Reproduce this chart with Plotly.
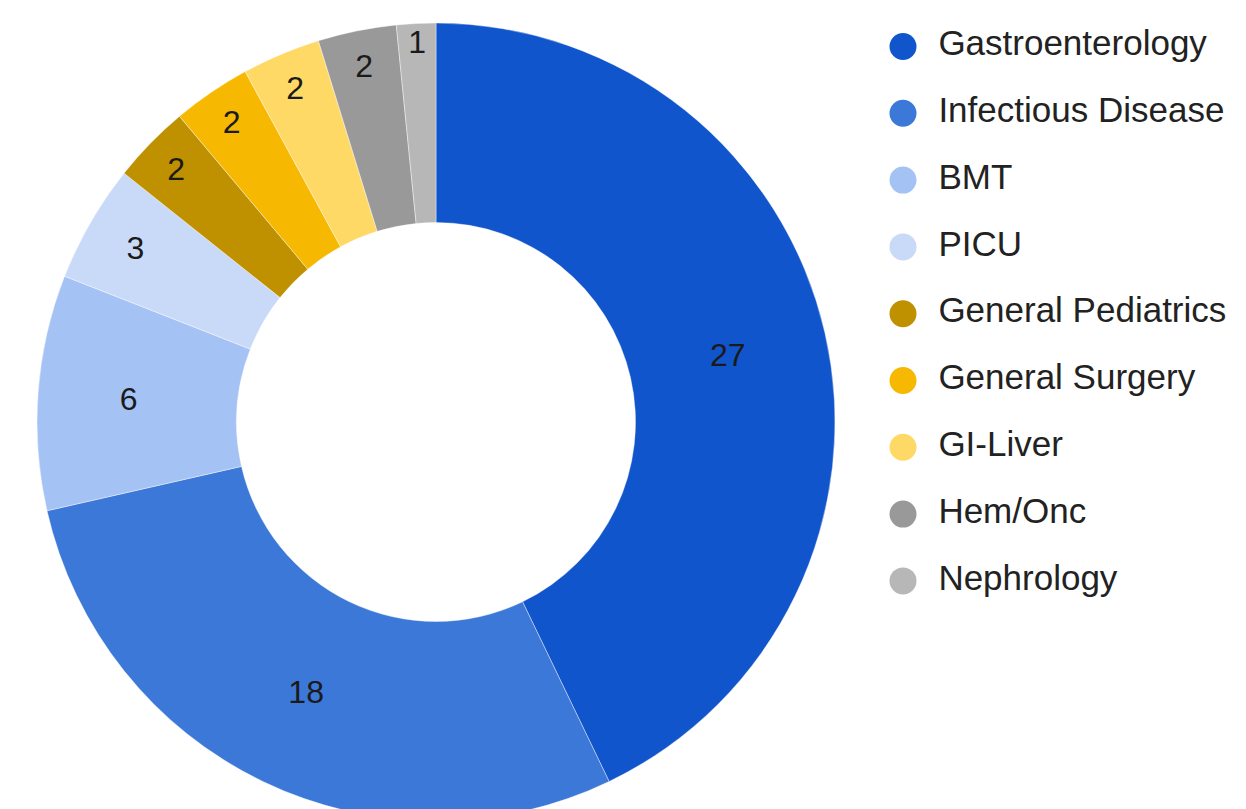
import plotly.graph_objects as go

categories = ["Gastroenterology", "Infectious Disease", "BMT", "PICU",
              "General Pediatrics", "General Surgery", "GI-Liver", "Hem/Onc", "Nephrology"]
counts = [27, 18, 6, 3, 2, 2, 2, 2, 1]
colors = ["#1155cc", "#3c78d8", "#a4c2f4", "#c9daf8",
          "#bf9000", "#f6b800", "#ffd966", "#999999", "#b7b7b7"]

OFF = 8          # page body margin offset
W, H = 1238, 813
TOP = 15
FONT = "Liberation Sans, Arial, sans-serif"

fig = go.Figure()
fig.add_trace(go.Pie(
    labels=categories, values=counts,
    marker=dict(colors=colors, line=dict(color="white", width=0.4)),
    hole=0.5, sort=False, direction="clockwise", rotation=0,
    textinfo="value", textposition="inside", insidetextorientation="horizontal",
    textfont=dict(family=FONT, size=32, color="#1a1a1a"),
    domain=dict(x=[29 / W, 827 / W], y=[0, 1]),
    showlegend=False, hoverinfo="label+value",
))

# custom legend (circle markers + labels), in screen-pixel coordinates
leg_x = [903] * len(categories)
leg_y = [46.5 + i * 66.8 for i in range(len(categories))]
fig.add_trace(go.Scatter(
    x=leg_x, y=leg_y, mode="markers+text",
    marker=dict(size=27, color=colors, line=dict(width=0)),
    text=["\u2002" + c for c in categories], textposition="middle right",
    textfont=dict(family=FONT, size=35, color="#222222"),
    showlegend=False, hoverinfo="skip", cliponaxis=False,
))

fig.update_layout(
    width=W, height=H,
    margin=dict(l=0, r=0, t=TOP, b=0),
    paper_bgcolor="white", plot_bgcolor="rgba(0,0,0,0)",
    xaxis=dict(range=[OFF, W + OFF], visible=False, fixedrange=True, domain=[0, 1]),
    yaxis=dict(range=[H + OFF, TOP + OFF], visible=False, fixedrange=True, domain=[0, 1]),
    uniformtext=dict(minsize=32, mode="show"),
)

fig.write_html("out.html")
